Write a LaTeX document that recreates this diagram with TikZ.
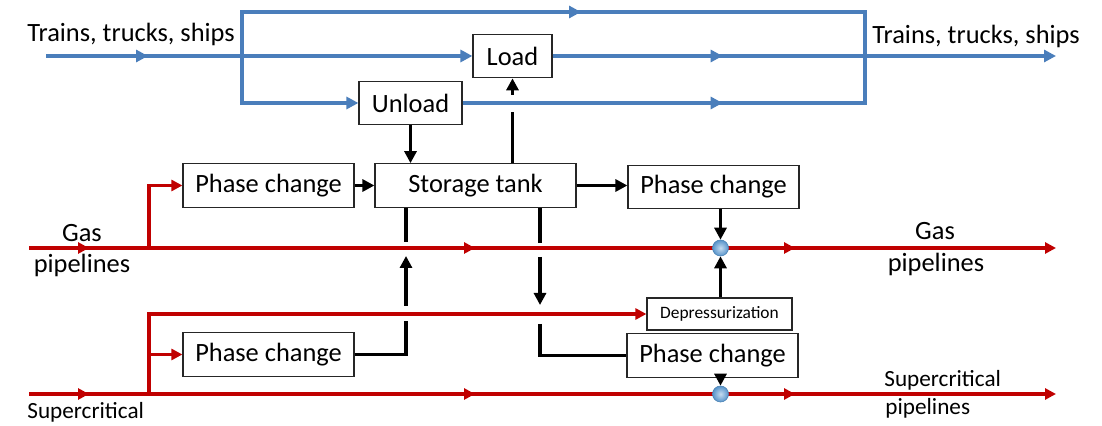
\documentclass[tikz,border=0pt]{standalone}
\usepackage{fontspec}
\setmainfont{Carlito}
\usetikzlibrary{arrows.meta,decorations.markings,calc}
\definecolor{lblue}{HTML}{4A7EBB}
\definecolor{lred}{HTML}{C00000}
\definecolor{dotblue}{HTML}{5B9BD5}
\begin{document}
\begin{tikzpicture}[x=0.5pt,y=-0.5pt,
  box/.style={draw=black!85, line width=0.6pt, fill=white, inner sep=0pt, minimum height=21.75pt, font=\fontsize{13.2}{15}\selectfont},
  pc/.style={box, minimum width=85.5pt},
  lbl/.style={inner sep=0pt, font=\fontsize{13.2}{15}\selectfont},
  slbl/.style={inner sep=0pt, font=\fontsize{11.6}{13}\selectfont},
  bl/.style={lblue, line width=2pt},
  rd/.style={lred, line width=1.7pt},
  bk/.style={black, line width=1.6pt},
  btip/.style={-{Triangle[length=6pt,width=6pt]}},
  rtip/.style={-{Triangle[length=5.5pt,width=5.5pt]}},
  ktip/.style={-{Triangle[length=6pt,width=6pt]}},
  bmark/.style={postaction=decorate, decoration={markings, mark=at position #1 with {\arrow{Triangle[length=6pt,width=6pt]}}}},
  rmarks/.style={postaction=decorate, decoration={markings,
     mark=at position 30pt with {\arrow{Triangle[length=5.5pt,width=5.5pt]}},
     mark=at position 223pt with {\arrow{Triangle[length=5.5pt,width=5.5pt]}},
     mark=at position 383pt with {\arrow{Triangle[length=5.5pt,width=5.5pt]}}}},
  dot/.style={circle, minimum size=8pt, inner sep=0pt, draw=dotblue!85!black, line width=0.3pt,
     shading=radial, inner color=dotblue!35!white, outer color=dotblue!95!black}
]
\useasboundingbox (0,0) rectangle (1102,426);

% boxes
\node[box, minimum width=39.5pt] (load) at (512.5,56) {Load};
\node[box, minimum width=51.5pt] (unload) at (410.5,103) {Unload};
\node[box, minimum width=100.5pt] (tank) at (475.5,185.5) {Storage tank};
\node[pc] (pc1) at (268.5,185.5) {Phase change};
\node[pc] (pc2) at (713.5,187) {Phase change};
\node[pc] (pc3) at (268.5,354.5) {Phase change};
\node[pc] (pc4) at (712.5,355.5) {Phase change};
\node[box, minimum width=72.5pt, minimum height=16pt, font=\fontsize{8.7}{10}\selectfont] (dep) at (719.5,314) {Depressurization};

% labels
\node[lbl, anchor=base west] (tl) at (27,42) {Trains, trucks, ships};
\node[lbl, anchor=base west] (tr) at (872,44) {Trains, trucks, ships};
\node[lbl, anchor=base] (gl1) at (82,242) {Gas};
\node[lbl, anchor=base] (gl2) at (82,273) {pipelines};
\node[lbl, anchor=base] (gr1) at (935,240) {Gas};
\node[lbl, anchor=base] (gr2) at (936,272) {pipelines};
\node[slbl, anchor=base west] (sr1) at (884,387) {Supercritical};
\node[slbl, anchor=base west] (sr2) at (885,415) {pipelines};
\node[slbl, anchor=base west] (sl1) at (27,419) {Supercritical};

% blue transport lines
\coordinate (tin) at (46,56);
\coordinate (split) at (242,56);
\coordinate (splitT) at (242,12);
\coordinate (splitB) at (242,103);
\coordinate (mergeT) at (865,12);
\coordinate (mergeB) at (865,103);
\coordinate (merge) at (865,56);
\coordinate (tout) at (1056,56);
\draw[bl, btip, bmark=51pt] (tin) -- (load.west);
\draw[bl, bmark=191.5pt] (split) -- (splitT) -- (mergeT) -- (merge);
\draw[bl, btip] (split) -- (splitB) -- (unload.west);
\draw[bl, bmark=130pt] (unload.east) -- (mergeB) -- (merge);
\draw[bl, btip, bmark=85pt] (load.east) -- (tout);

% red pipelines
\coordinate (gin) at (29,248);
\coordinate (gout) at (1056,248);
\coordinate (gb) at (149,248);
\coordinate (sin) at (29,394);
\coordinate (sout) at (1056,394);
\coordinate (sb) at (149,394);
\draw[rd, rtip, rmarks] (gin) -- (gout);
\draw[rd, rtip] (gb) -- (gb |- pc1.west) -- (pc1.west);
\draw[rd, rtip, rmarks] (sin) -- (sout);
\draw[rd, rtip] (sb) -- (sb |- dep.west) -- (dep.west);
\draw[rd, rtip] (sb |- pc3.west) -- (pc3.west);

% junction dots
\node[dot] (d1) at (720.5,248) {};
\node[dot] (d2) at (720.5,394) {};

% black flows
\coordinate (lt1) at (512.5,112);
\coordinate (lt2) at (512.5,95);
\draw[bk] (load.south |- tank.north) -- (lt1);
\draw[bk, ktip] (lt2) -- (load.south);
\draw[bk, ktip] (unload.south) -- (unload.south |- tank.north);
\draw[bk, ktip] (pc1.east) -- (tank.west);
\draw[bk, ktip] (tank.east) -- (tank.east -| pc2.west);
\draw[bk, ktip] (pc2.south -| d1) -- (d1.north);
\draw[bk, ktip] (dep.north -| d1) -- (d1.south);
\draw[bk, ktip] (pc4.south -| d2) -- (d2.north);

% up path from lower phase change to storage tank
\coordinate (ux) at (406,0);
\coordinate (u1) at (406,354.5);
\coordinate (u2) at (406,321);
\coordinate (u3) at (406,306);
\coordinate (u4) at (406,256);
\coordinate (u5) at (406,242);
\draw[bk] (pc3.east) -- (u1) -- (u2);
\draw[bk, ktip] (u3) -- (u4);
\draw[bk] (u5) -- (ux |- tank.south);

% down path from storage tank to lower right phase change
\coordinate (dx) at (540,0);
\coordinate (v1) at (540,243);
\coordinate (v2) at (540,257);
\coordinate (v3) at (540,305);
\coordinate (v4) at (540,324);
\draw[bk] (dx |- tank.south) -- (v1);
\draw[bk, ktip] (v2) -- (v3);
\draw[bk] (v4) -- (dx |- pc4.west) -- (pc4.west);
\end{tikzpicture}
\end{document}
